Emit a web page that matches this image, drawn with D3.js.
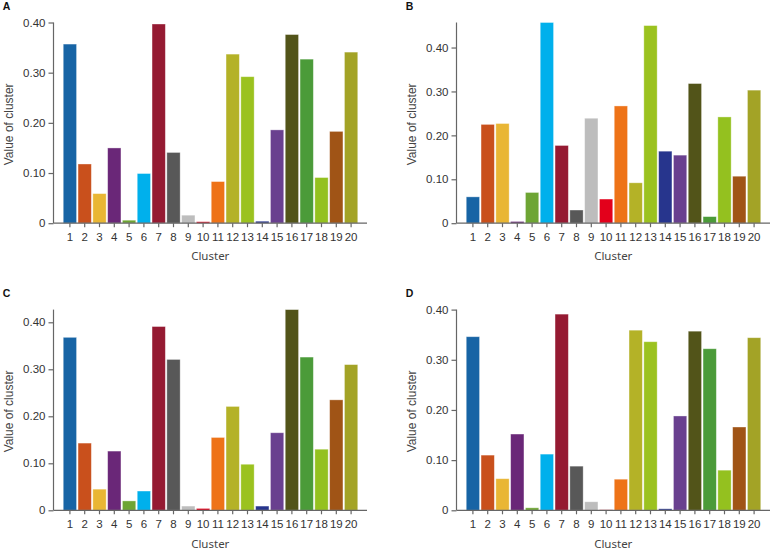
<!DOCTYPE html>
<html><head><meta charset="utf-8">
<script src="https://cdn.jsdelivr.net/npm/d3@7"></script>
<style>
html,body{margin:0;padding:0;background:#fff;}
svg{display:block;}
</style></head>
<body>
<svg id="chart" width="770" height="549"></svg>
<script>
const clusters = d3.range(1, 21).map(String);
const valuesA = [0.357,0.118,0.059,0.150,0.006,0.099,0.397,0.141,0.016,0.003,0.083,0.337,0.292,0.004,0.186,0.376,0.327,0.091,0.183,0.341];
const valuesB = [0.060,0.225,0.227,0.004,0.070,0.457,0.177,0.030,0.239,0.055,0.267,0.092,0.450,0.164,0.155,0.318,0.015,0.242,0.107,0.303];
const valuesC = [0.368,0.143,0.045,0.126,0.020,0.041,0.391,0.321,0.009,0.004,0.155,0.221,0.098,0.009,0.165,0.427,0.326,0.130,0.235,0.310];
const valuesD = [0.346,0.110,0.063,0.152,0.005,0.112,0.391,0.088,0.017,0.001,0.062,0.359,0.336,0.003,0.188,0.357,0.322,0.080,0.166,0.344];
const clusterColors = ["#1764a5","#c9501c","#e9b634","#6a2778","#6ea534","#00b0ec","#951a32","#585858","#bdbdbd","#e3001b","#ee7318","#b4b227","#9bc21f","#27358d","#69408f","#525419","#4b9b39","#94c11f","#a05416","#a3a326"];
const yTicks = [0, 0.10, 0.20, 0.30, 0.40];
const panelLetters = ["A","B","C","D"];
const panelValues = [valuesA, valuesB, valuesC, valuesD];

const svg = d3.select("#chart");
const panels = [
  {left:53.5, top:22.5, base:223.2},
  {left:456.5, top:22.5, base:223.2},
  {left:53.5, top:309.6, base:510.3},
  {left:456.5, top:309.6, base:510.3}
];
const axisW = 313.5;

panels.forEach((p, i) => {
  const vals = panelValues[i];
  const g = svg.append("g");
  const yMax = Math.max(d3.max(vals), 0.40);
  const y = d3.scaleLinear().domain([0, yMax]).range([p.base, p.top]);
  const x = d3.scaleBand().domain(clusters).range([p.left + 9, p.left + 305]).paddingInner(0.1).paddingOuter(0.05);

  g.selectAll("rect.bar").data(vals).join("rect")
    .attr("class","bar")
    .attr("x", (d,j) => x(clusters[j]))
    .attr("width", x.bandwidth())
    .attr("y", d => y(d))
    .attr("height", d => p.base - y(d))
    .attr("fill", (d,j) => clusterColors[j])
    .attr("stroke", "rgba(255,255,255,0.45)")
    .attr("stroke-width", 0.8);

  // y axis
  const yAxis = d3.axisLeft(y).tickValues(yTicks.filter(t => t <= yMax + 1e-9))
    .tickFormat(d => d === 0 ? "0" : d3.format(".2f")(d))
    .tickSize(5).tickPadding(3);
  const ya = g.append("g").attr("transform", `translate(${p.left},0)`).call(yAxis);
  ya.select(".domain").attr("d", `M0,${p.top}V${p.base}`);
  ya.selectAll(".domain, .tick line").attr("stroke","#666").attr("stroke-width",1.2);
  ya.selectAll("text").attr("font-family","'Liberation Sans', Arial, sans-serif").attr("font-size","11.5px").attr("fill","#333");

  // x axis
  const xAxis = d3.axisBottom(x).tickSize(4).tickPadding(6);
  const xa = g.append("g").attr("transform", `translate(0,${p.base})`).call(xAxis);
  xa.select(".domain").attr("d", `M${p.left},0H${p.left + axisW}`);
  xa.selectAll(".domain, .tick line").attr("stroke","#666").attr("stroke-width",1.2);
  xa.selectAll("text").attr("font-family","'Liberation Sans', Arial, sans-serif").attr("font-size","11.5px").attr("fill","#333");

  // titles
  g.append("text")
    .attr("transform", `translate(${p.left - 41},${(p.top + p.base)/2 + 1.5}) rotate(-90)`)
    .attr("text-anchor","middle")
    .attr("font-family","'Liberation Sans', Arial, sans-serif")
    .attr("font-size","12px").attr("fill","#444")
    .text("Value of cluster");
  g.append("text")
    .attr("x", p.left + axisW/2).attr("y", p.base + 37.2)
    .attr("text-anchor","middle")
    .attr("font-family","'Noto Sans', 'Open Sans', sans-serif")
    .attr("font-size","11.5px").attr("fill","#444")
    .text("Cluster");
  g.append("text")
    .attr("x", p.left - 50.8).attr("y", p.top - 12.4)
    .attr("font-family","'Liberation Sans', Arial, sans-serif")
    .attr("font-weight","bold").attr("font-size","10.5px").attr("fill","#111")
    .text(panelLetters[i]);
});
</script>
</body></html>
